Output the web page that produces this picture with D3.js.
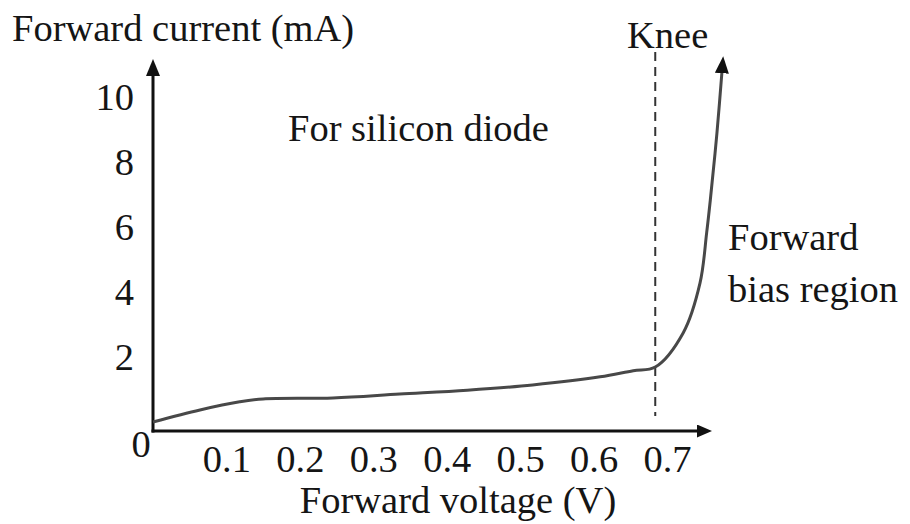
<!DOCTYPE html>
<html>
<head>
<meta charset="utf-8">
<script src="https://cdn.jsdelivr.net/npm/d3@7"></script>
<style>
  html, body { margin: 0; padding: 0; background: #fff; }
  svg { display: block; }
</style>
</head>
<body>
<svg id="chart" width="910" height="524"></svg>
<script>
// ---- data ----
const voltage = [0, 0.064, 0.118, 0.15, 0.245, 0.336, 0.428, 0.517, 0.609, 0.654, 0.684, 0.722, 0.745, 0.754, 0.759, 0.768, 0.776];
const current = [0, 0.37, 0.62, 0.71, 0.74, 0.86, 0.98, 1.14, 1.39, 1.58, 1.69, 2.74, 4.28, 5.82, 6.83, 8.89, 11.1];
const xTicks = [0.1, 0.2, 0.3, 0.4, 0.5, 0.6, 0.7];
const xTickLabels = ["0.1", "0.2", "0.3", "0.4", "0.5", "0.6", "0.7"];
const yTicks = [2, 4, 6, 8, 10];
const yTickLabels = ["2", "4", "6", "8", "10"];
const kneeVoltage = 0.684;
const xAxisTitle = "Forward voltage (V)";
const yAxisTitle = "Forward current (mA)";
const chartNote = "For silicon diode";
const kneeLabel = "Knee";
const regionLabel = ["Forward", "bias region"];

// ---- scales ----
const x = d3.scaleLinear().domain([0, 0.7]).range([153, 667]);
const y = d3.scaleLinear().domain([0, 10]).range([422, 97]);
const axisY = 431;         // drawn x-axis line (slightly below zero, as in original)
const FS = 38.5;
const FONT = '"Liberation Serif", "Times New Roman", serif';
const INK = "#151515";

const svg = d3.select("#chart");
const defs = svg.append("defs");
function marker(id, len, hw, ref) {
  defs.append("marker")
    .attr("id", id).attr("markerUnits", "userSpaceOnUse")
    .attr("viewBox", `0 ${-hw} ${len} ${2*hw}`)
    .attr("markerWidth", len).attr("markerHeight", 2*hw)
    .attr("refX", ref).attr("refY", 0).attr("orient", "auto")
    .append("path").attr("d", `M0,${-hw}L${len},0L0,${hw}Z`).attr("fill", "#111");
}
marker("arrAxis", 17, 7, 12);
marker("arrX", 15, 6.5, 10);
marker("arrCurve", 17, 7, 12);

function label(xp, yp, str, anchor) {
  return svg.append("text").attr("x", xp).attr("y", yp)
    .attr("text-anchor", anchor || "start")
    .attr("font-family", FONT)
    .style("font-family", FONT).style("font-size", FS + "px").style("fill", INK)
    .text(str);
}

// knee dashed line
svg.append("line")
  .attr("x1", x(kneeVoltage)).attr("x2", x(kneeVoltage))
  .attr("y1", 52).attr("y2", 416)
  .attr("stroke", "#333").attr("stroke-width", 2)
  .attr("stroke-dasharray", "9,6");

// axes lines with arrows
svg.append("line")
  .attr("x1", x(0)).attr("y1", axisY + 1.5)
  .attr("x2", x(0)).attr("y2", 52 + 12)
  .attr("stroke", "#111").attr("stroke-width", 3)
  .attr("marker-end", "url(#arrAxis)");
svg.append("line")
  .attr("x1", x(0) - 1.5).attr("y1", axisY)
  .attr("x2", 717 - 10).attr("y2", axisY)
  .attr("stroke", "#111").attr("stroke-width", 3)
  .attr("marker-end", "url(#arrX)");

// tick labels via d3 axes
const gx = svg.append("g")
  .attr("transform", `translate(0,${axisY})`)
  .call(d3.axisBottom(x).tickValues(xTicks).tickSize(0).tickPadding(14)
    .tickFormat((d, i) => xTickLabels[i]));
gx.select(".domain").remove();
gx.attr("font-family", FONT);
gx.selectAll("text").style("font-size", FS + "px")
  .style("font-family", FONT).style("fill", INK);

const gy = svg.append("g")
  .attr("transform", `translate(${x(0)},0)`)
  .call(d3.axisLeft(y).tickValues(yTicks).tickSize(0).tickPadding(19)
    .tickFormat((d, i) => yTickLabels[i]));
gy.select(".domain").remove();
gy.attr("font-family", FONT);
gy.selectAll("text").style("font-size", FS + "px")
  .style("font-family", FONT).style("fill", INK);

// origin "0"
label(141, 457, "0", "middle");

// curve
const pts = voltage.map((v, i) => [v, current[i]]);
const line = d3.line().x(d => x(d[0])).y(d => y(d[1])).curve(d3.curveCatmullRom.alpha(0.5));
svg.append("path")
  .datum(pts)
  .attr("d", line)
  .attr("fill", "none")
  .attr("stroke", "#484848")
  .attr("stroke-width", 3)
  .attr("stroke-linejoin", "round")
  .attr("marker-end", "url(#arrCurve)");

// texts
label(12, 41, yAxisTitle);
label(458, 513, xAxisTitle, "middle");
label(288, 141, chartNote);
label(627, 48, kneeLabel);
label(728, 250, regionLabel[0]);
label(728, 302, regionLabel[1]);
</script>
</body>
</html>
